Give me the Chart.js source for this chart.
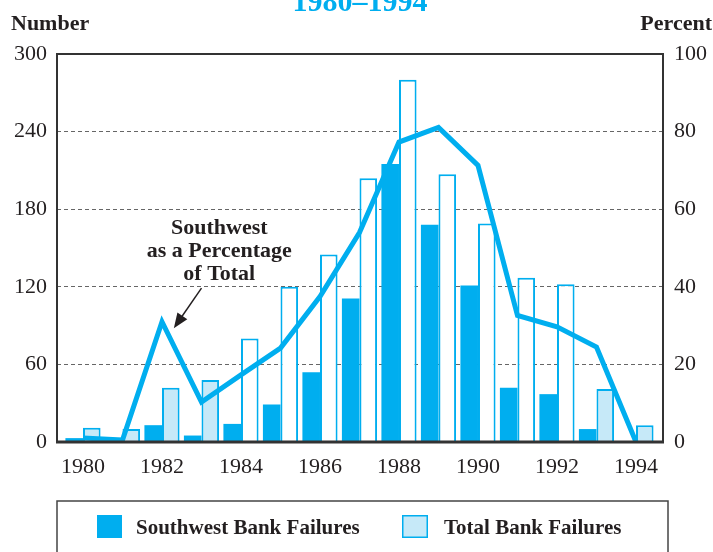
<!DOCTYPE html>
<html>
<head>
<meta charset="utf-8">
<script src="https://cdn.jsdelivr.net/npm/chart.js@4/dist/chart.umd.min.js"></script>
<style>
html,body{margin:0;padding:0;background:#fff;}
#wrap{width:713px;height:552px;position:relative;}
</style>
</head>
<body>
<div id="wrap"><canvas id="c" width="713" height="552"></canvas></div>
<script>
// ---- data ----
const years = [1980,1981,1982,1983,1984,1985,1986,1987,1988,1989,1990,1991,1992,1993,1994];
const southwestFailures = [3,1,13,5,14,29,54,111,215,168,121,42,37,10,0];
const totalFailures = [11,10,42,48,80,120,145,204,280,207,169,127,122,41,13];
const southwestPercent = [1,0.5,31,10.3,17.3,24.2,37.5,54,77.3,81.1,71.3,32.6,29.7,24.5,0];
const xTickYears = [1980,1982,1984,1986,1988,1990,1992,1994];
const leftTicks = [0,60,120,180,240,300];
const rightTicks = [0,20,40,60,80,100];
const titleText = '1980\u20131994';
const annotationLines = ['Southwest','as a Percentage','of Total'];

// ---- styles ----
const CYAN = '#00AEEF';
const LIGHT = '#C6E9F8';
const lightFilledYears = [1980,1981,1982,1983,1993,1994];
const SERIF = '"Liberation Serif","DejaVu Serif",serif';

const toXY = arr => arr.map((v,i)=>({x:years[i], y:v}));

const decor = {
  id:'decor',
  beforeDatasetsDraw(chart){
    const ctx = chart.ctx;
    ctx.save();
    ctx.fillStyle = CYAN;
    ctx.font = 'bold 30px ' + SERIF;
    ctx.textAlign = 'center';
    ctx.textBaseline = 'alphabetic';
    ctx.fillText(titleText, 360, 11);
    ctx.fillStyle = '#231f20';
    ctx.font = 'bold 22px ' + SERIF;
    ctx.textAlign = 'left';
    ctx.fillText('Number', 11, 30);
    ctx.textAlign = 'right';
    ctx.fillText('Percent', 712, 30);
    ctx.restore();
  },
  afterDraw(chart){
    const ctx = chart.ctx;
    const a = chart.chartArea;
    ctx.save();
    ctx.strokeStyle = '#333';
    ctx.lineWidth = 2;
    ctx.beginPath();
    ctx.moveTo(a.left, a.bottom); ctx.lineTo(a.left, a.top); ctx.lineTo(a.right, a.top); ctx.lineTo(a.right, a.bottom);
    ctx.stroke();
    ctx.lineWidth = 3;
    ctx.beginPath();
    ctx.moveTo(a.left-1, a.bottom); ctx.lineTo(a.right+1, a.bottom);
    ctx.stroke();

    const xs = chart.scales.x, ys = chart.scales.y;
    const cx = xs.getPixelForValue(1983.45);
    ctx.fillStyle = '#231f20';
    ctx.font = 'bold 22px ' + SERIF;
    ctx.textAlign = 'center';
    ctx.textBaseline = 'alphabetic';
    const base = ys.getPixelForValue(161);
    annotationLines.forEach((t,i)=>ctx.fillText(t, cx, base + i*23));
    const x1 = xs.getPixelForValue(1983.0), y1 = ys.getPixelForValue(119);
    const x2 = xs.getPixelForValue(1982.3), y2 = ys.getPixelForValue(88);
    const ang = Math.atan2(y2-y1, x2-x1);
    ctx.strokeStyle = '#231f20';
    ctx.lineWidth = 1.5;
    ctx.beginPath();
    ctx.moveTo(x1,y1);
    ctx.lineTo(x2 - 10*Math.cos(ang), y2 - 10*Math.sin(ang));
    ctx.stroke();
    ctx.beginPath();
    ctx.moveTo(x2,y2);
    ctx.lineTo(x2 - 15*Math.cos(ang) + 6*Math.sin(ang), y2 - 15*Math.sin(ang) - 6*Math.cos(ang));
    ctx.lineTo(x2 - 15*Math.cos(ang) - 6*Math.sin(ang), y2 - 15*Math.sin(ang) + 6*Math.cos(ang));
    ctx.closePath();
    ctx.fill();

    ctx.strokeStyle = '#444';
    ctx.lineWidth = 1.5;
    ctx.strokeRect(57, 501, 611, 70);
    const ds = chart.data.datasets;
    ctx.fillStyle = CYAN;
    ctx.fillRect(97, 515, 25, 23);
    ctx.fillStyle = LIGHT;
    ctx.fillRect(402, 515, 26, 23);
    ctx.strokeStyle = CYAN;
    ctx.lineWidth = 1.5;
    ctx.strokeRect(402.75, 515.75, 24.5, 21.5);
    ctx.fillStyle = '#231f20';
    ctx.font = 'bold 21px ' + SERIF;
    ctx.textAlign = 'left';
    ctx.fillText(ds[1].label, 136, 534);
    ctx.fillText(ds[2].label, 444, 534);
    ctx.restore();
  }
};

new Chart(document.getElementById('c'), {
  type: 'bar',
  data: {
    datasets: [
      {
        type: 'line',
        label: 'Southwest as a Percentage of Total',
        data: toXY(southwestPercent),
        yAxisID: 'y1',
        borderColor: CYAN,
        borderWidth: 5,
        borderJoinStyle: 'miter',
        pointRadius: 0,
        tension: 0,
        order: 0
      },
      {
        label: 'Southwest Bank Failures',
        data: toXY(southwestFailures),
        yAxisID: 'y',
        backgroundColor: CYAN,
        borderWidth: 0,
        barPercentage: 1,
        categoryPercentage: 0.89,
        order: 1
      },
      {
        label: 'Total Bank Failures',
        data: toXY(totalFailures),
        yAxisID: 'y',
        backgroundColor: years.map(y => lightFilledYears.includes(y) ? LIGHT : '#ffffff'),
        borderColor: CYAN,
        borderWidth: 2,
        barPercentage: 1,
        categoryPercentage: 0.89,
        order: 1
      }
    ]
  },
  options: {
    responsive: false,
    animation: false,
    layout: { padding: { top: 54, left: 0, right: 0, bottom: 0 } },
    plugins: { legend: { display: false }, tooltip: { enabled: false } },
    scales: {
      x: {
        type: 'linear',
        offset: false,
        min: 1979.342,
        max: 1994.684,
        grid: { display: false, drawTicks: false },
        border: { display: false },
        afterBuildTicks: s => { s.ticks = xTickYears.map(v => ({ value: v })); },
        afterFit: s => { s.height = 110; },
        ticks: {
          padding: 12,
          color: '#231f20',
          font: { family: SERIF, size: 22 },
          callback: v => String(v),
          maxRotation: 0,
          autoSkip: false
        }
      },
      y: {
        position: 'left',
        min: 0, max: 300,
        afterBuildTicks: s => { s.ticks = leftTicks.map(v => ({ value: v })); },
        afterFit: s => { s.width = 57; },
        grid: {
          drawTicks: false,
          color: c => (c.tick && (c.tick.value === 0 || c.tick.value === 300)) ? 'rgba(0,0,0,0)' : '#666',
          lineWidth: 1
        },
        border: { display: false, dash: [4, 3] },
        ticks: {
          padding: 10,
          color: '#231f20',
          font: { family: SERIF, size: 22 }
        }
      },
      y1: {
        position: 'right',
        min: 0, max: 100,
        afterBuildTicks: s => { s.ticks = rightTicks.map(v => ({ value: v })); },
        afterFit: s => { s.width = 50; },
        grid: { display: false, drawTicks: false },
        border: { display: false },
        ticks: {
          padding: 11,
          color: '#231f20',
          font: { family: SERIF, size: 22 }
        }
      }
    }
  },
  plugins: [decor]
});
</script>
</body>
</html>
